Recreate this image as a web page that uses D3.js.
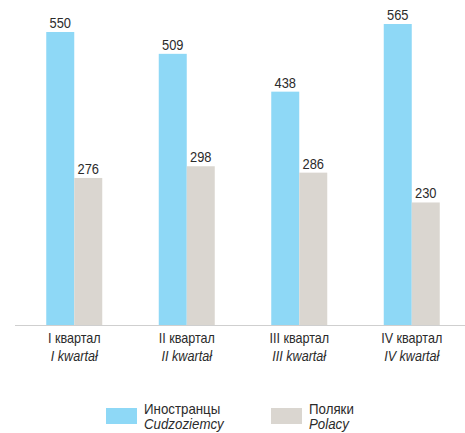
<!DOCTYPE html>
<html>
<head>
<meta charset="utf-8">
<script src="https://cdn.jsdelivr.net/npm/d3@7"></script>
<style>
  body { margin: 0; background: #fff; }
  text { font-family: "Liberation Sans", Arial, sans-serif; fill: #2b2b2b; }
</style>
</head>
<body>
<div id="chart"></div>
<script>
var quarters = ["I", "II", "III", "IV"];
var quarterRu = ["I квартал", "II квартал", "III квартал", "IV квартал"];
var quarterPl = ["I kwartał", "II kwartał", "III kwartał", "IV kwartał"];
var foreigners = [550, 509, 438, 565];
var poles = [276, 298, 286, 230];

var seriesNames = [
  { key: "foreigners", ru: "Иностранцы", pl: "Cudzoziemcy", color: "#8ed8f6" },
  { key: "poles", ru: "Поляки", pl: "Polacy", color: "#dad6d0" }
];

var width = 465, height = 433,
    baseline = 325;

var data = quarters.map(function(q, i) {
  return { q: q, ru: quarterRu[i], pl: quarterPl[i], foreigners: foreigners[i], poles: poles[i] };
});

var svg = d3.select("#chart").append("svg")
    .attr("width", width)
    .attr("height", height);

var x0 = d3.scaleBand().domain(quarters).range([18, 468]);
var x1 = d3.scaleBand().domain(["foreigners", "poles"]).range([0, 56]);
var y = d3.scaleLinear().domain([0, 565]).range([baseline, 24]);

var groups = svg.selectAll("g.group")
    .data(data)
  .enter().append("g")
    .attr("class", "group")
    .attr("transform", function(d) { return "translate(" + (x0(d.q) + x0.bandwidth() / 2 - 28) + ",0)"; });

seriesNames.forEach(function(s) {
  groups.append("rect")
    .attr("x", x1(s.key))
    .attr("y", function(d) { return y(d[s.key]); })
    .attr("width", x1.bandwidth())
    .attr("height", function(d) { return baseline - y(d[s.key]); })
    .attr("fill", s.color);

  // narrow-looking labels: squeeze horizontally a bit
  groups.append("text")
    .attr("transform", function(d) {
      return "translate(" + (x1(s.key) + x1.bandwidth() / 2) + "," + (y(d[s.key]) - 4) + ") scale(0.86,1)";
    })
    .attr("text-anchor", "middle")
    .style("font-size", "15px")
    .text(function(d) { return d[s.key]; });
});

// axis line
svg.append("line")
  .attr("x1", 15).attr("x2", 465)
  .attr("y1", baseline + 0.5).attr("y2", baseline + 0.5)
  .attr("stroke", "#cfcfcf")
  .attr("stroke-width", 1);

// category labels
var labels = svg.selectAll("g.label")
    .data(data)
  .enter().append("g")
    .attr("class", "label")
    .attr("transform", function(d) { return "translate(" + (x0(d.q) + x0.bandwidth() / 2) + ",0) scale(0.9,1)"; });

labels.append("text")
  .attr("y", 343)
  .attr("text-anchor", "middle")
  .style("font-size", "14px")
  .text(function(d) { return d.ru; });

labels.append("text")
  .attr("y", 361)
  .attr("text-anchor", "middle")
  .style("font-size", "14px")
  .style("font-style", "italic")
  .text(function(d) { return d.pl; });

// legend
var legend = svg.selectAll("g.legend")
    .data(seriesNames)
  .enter().append("g")
    .attr("class", "legend")
    .attr("transform", function(d, i) { return "translate(" + (106 + i * 165) + ",0)"; });

legend.append("rect")
  .attr("x", 0).attr("y", 408)
  .attr("width", 31).attr("height", 16)
  .attr("fill", function(d) { return d.color; });

var legendText = legend.append("g")
  .attr("transform", "translate(38,0) scale(0.95,1)");

legendText.append("text")
  .attr("y", 414)
  .style("font-size", "14px")
  .text(function(d) { return d.ru; });

legendText.append("text")
  .attr("y", 429)
  .style("font-size", "14px")
  .style("font-style", "italic")
  .text(function(d) { return d.pl; });
</script>
</body>
</html>
